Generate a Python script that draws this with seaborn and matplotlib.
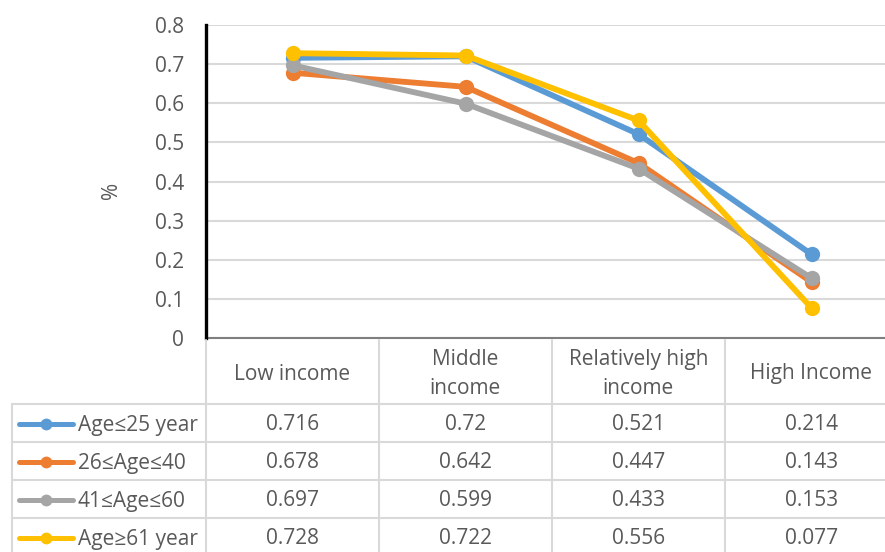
import matplotlib
matplotlib.use("Agg")
import matplotlib.pyplot as plt
from matplotlib.lines import Line2D
import pandas as pd
import seaborn as sns

# Income groups (x categories) and header labels shown in the data table
categories = ["Low income", "Middle income", "Relatively high income", "High Income"]
header_labels = ["Low income", "Middle\nincome", "Relatively high\nincome", "High Income"]

# Age groups and their shares per income group
series_names = ["Age≤25 year", "26≤Age≤40", "41≤Age≤60", "Age≥61 year"]
age_le25 = [0.716, 0.72, 0.521, 0.214]
age_26_40 = [0.678, 0.642, 0.447, 0.143]
age_41_60 = [0.697, 0.599, 0.433, 0.153]
age_ge61 = [0.728, 0.722, 0.556, 0.077]
series_values = [age_le25, age_26_40, age_41_60, age_ge61]

colors = ["#5B9BD5", "#ED7D31", "#A5A5A5", "#FFC000"]
y_ticks = [0, 0.1, 0.2, 0.3, 0.4, 0.5, 0.6, 0.7, 0.8]

sns.set_theme(style="white")
plt.rcParams["font.family"] = ["Open Sans", "DejaVu Sans"]

TEXT = "#595959"
GRID = "#D9D9D9"
FS = 15

W, H = 885, 552
fig = plt.figure(figsize=(W / 100, H / 100), dpi=100)


def fx(px):
    return px / W


def fy(py):
    return 1 - py / H


# plot area spans the four table columns (last one runs past the right edge)
x_left, x_right = 206, 898
y_top, y_bot = 25, 338
ax = fig.add_axes([fx(x_left), fy(y_bot), fx(x_right - x_left), (y_bot - y_top) / H])

df = pd.DataFrame(
    [(cat, name, v) for name, vals in zip(series_names, series_values)
     for cat, v in zip(categories, vals)],
    columns=["income", "group", "share"],
)
sns.lineplot(data=df, x="income", y="share", hue="group", hue_order=series_names,
             palette=colors, marker="o", markersize=11, markeredgewidth=0,
             linewidth=4.2, sort=False, legend=False, ax=ax)

ax.set_xlim(-0.5, 3.5)
ax.set_ylim(0, 0.8)
ax.set_yticks(y_ticks)
ax.set_yticklabels([f"{t:g}" for t in y_ticks], fontsize=FS, color=TEXT)
ax.set_xticks([])
ax.set_xlabel("")
ax.set_ylabel("")
ax.tick_params(axis="y", length=0, pad=16)
ax.grid(axis="y", color=GRID, linewidth=1.5)
ax.set_axisbelow(True)
for s in ["top", "right"]:
    ax.spines[s].set_visible(False)
ax.spines["left"].set_color("black")
ax.spines["left"].set_linewidth(2.4)
ax.spines["bottom"].set_color("#7F7F7F")
ax.spines["bottom"].set_linewidth(1.5)
ax.spines["left"].set_zorder(5)

fig.text(fx(112), fy(190), "%", rotation=90, ha="center", va="center",
         fontsize=FS, color=TEXT)

# ---- data table below the plot ----
col_edges = [206, 379, 552, 725, 898]
row_edges = [404, 442, 480, 518, 556]
legend_left = 12


def hline(y, x0, x1):
    fig.add_artist(Line2D([fx(x0), fx(x1)], [fy(y), fy(y)], color=GRID, lw=1.5))


def vline(x, y0, y1):
    fig.add_artist(Line2D([fx(x), fx(x)], [fy(y0), fy(y1)], color=GRID, lw=1.5))


for y in row_edges[:-1]:
    hline(y, legend_left, 898)
vline(legend_left, row_edges[0], 556)
for x in col_edges:
    vline(x, 340, 556)

header_mid = 374
for i, lab in enumerate(header_labels):
    cx = (col_edges[i] + col_edges[i + 1]) / 2
    fig.text(fx(cx), fy(header_mid), lab, ha="center", va="center",
             fontsize=FS, color=TEXT, linespacing=1.45)

for r, (name, vals, col) in enumerate(zip(series_names, series_values, colors)):
    cy = (row_edges[r] + row_edges[r + 1]) / 2 + 2
    ky = cy - 1
    fig.add_artist(Line2D([fx(19), fx(73)], [fy(ky), fy(ky)], color=col, lw=3.6,
                          solid_capstyle="round"))
    fig.add_artist(Line2D([fx(46)], [fy(ky)], color=col, marker="o",
                          markersize=8.5, markeredgewidth=0))
    fig.text(fx(78), fy(cy), name, ha="left", va="center", fontsize=FS, color=TEXT)
    for i, v in enumerate(vals):
        cx = (col_edges[i] + col_edges[i + 1]) / 2
        fig.text(fx(cx), fy(cy), f"{v:g}", ha="center", va="center",
                 fontsize=FS, color=TEXT)

fig.savefig("out.png", dpi=100)
